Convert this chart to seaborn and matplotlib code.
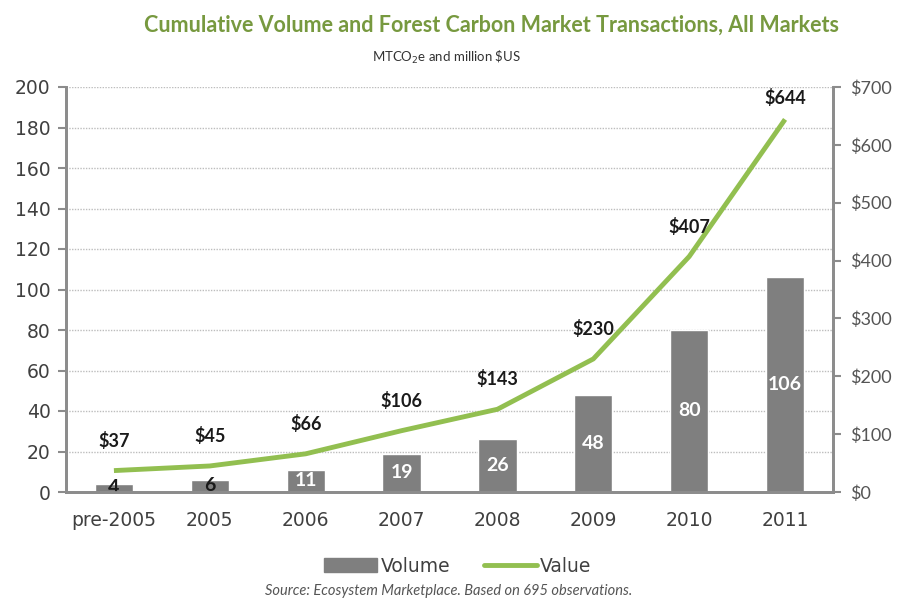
import numpy as np
import pandas as pd
import matplotlib
matplotlib.use("Agg")
import matplotlib.pyplot as plt
import seaborn as sns
from matplotlib.ticker import FixedLocator, FuncFormatter
from matplotlib.patches import Patch
from matplotlib.lines import Line2D

years = ["pre-2005", "2005", "2006", "2007", "2008", "2009", "2010", "2011"]
volume = [4, 6, 11, 19, 26, 48, 80, 106]
value = [37, 45, 66, 106, 143, 230, 407, 644]

df = pd.DataFrame({"year": years, "volume": volume, "value": value,
                   "pos": np.arange(len(years))})

sns.set_theme(style="white")
plt.rcParams["font.family"] = ["DejaVu Sans"]
LATO = ["Lato", "DejaVu Sans"]

BAR = "#7f7f7f"
GREEN = "#92bf50"
AXC = "#8c8c8c"
TXT = "#404040"

fig = plt.figure(figsize=(8.99, 5.99), dpi=100)
ax = fig.add_axes([66/899, 1-492/599, (833-66)/899, (492-87)/599])

sns.barplot(data=df, x="year", y="volume", color=BAR, width=0.4,
            saturation=1, ax=ax, zorder=2)
ax.set_ylim(0, 200)
ax.set_xlim(-0.5, len(years)-0.5)
ax.set_yticks(np.arange(0, 201, 20))
ax.yaxis.grid(True, linestyle=(0, (1, 1)), color="#bdbdbd", linewidth=1.0, zorder=0)
ax.set_axisbelow(True)
ax.set_xlabel("")
ax.set_ylabel("")

ax2 = ax.twinx()
sns.lineplot(data=df, x="pos", y="value", color=GREEN, linewidth=3.5, ax=ax2,
             solid_capstyle="butt", zorder=3)
ax2.set_ylim(0, 700)
ax2.set_xlim(-0.5, len(years)-0.5)
ax2.set_yticks(np.arange(0, 701, 100))
ax2.yaxis.set_major_formatter(FuncFormatter(lambda v, p: f"${int(v)}"))
ax2.set_ylabel("")
ax2.set_xlabel("")

# x ticks: labels at centres, tick marks at boundaries
ax.set_xticks(np.arange(len(years)))
ax.set_xticklabels(years)
ax.xaxis.set_minor_locator(FixedLocator(np.arange(-0.5, len(years), 1.0)))
ax.tick_params(axis="x", which="major", length=0, pad=14, labelsize=13.5, labelcolor=TXT)
ax.tick_params(axis="x", which="minor", length=6, width=1.5, color=AXC, direction="out")
ax.tick_params(axis="y", length=6, width=1.5, color=AXC, direction="out",
               labelsize=13.5, labelcolor=TXT, pad=5, left=True)
ax2.tick_params(axis="y", length=6, width=1.5, color=AXC, direction="out",
                labelsize=13, labelcolor="#555555", pad=6, right=True,
                labelfontfamily="Lato")

for a in (ax, ax2):
    a.spines["top"].set_visible(False)
    for s in ("left", "right", "bottom"):
        a.spines[s].set_color(AXC)
        a.spines[s].set_linewidth(2)

# bar labels centred in bars
for i, v in enumerate(volume):
    col = "#1a1a1a" if v < 8 else "white"
    ax.text(i, v/2, f"{v}", ha="center", va="center", fontsize=14,
            fontweight="bold", color=col, zorder=5, family=LATO)

# value labels above line points
for i, v in enumerate(value):
    off = 15 if i < len(value)-1 else 9
    ax2.annotate(f"${v}", (i, v), xytext=(0, off), textcoords="offset points",
                 ha="center", va="bottom", fontsize=13, fontweight="bold",
                 color="#1a1a1a", zorder=5, family=LATO)

fig.text(491/899, 1-25/599, "Cumulative Volume and Forest Carbon Market Transactions, All Markets",
         ha="center", va="center", fontsize=15.5, fontweight="bold", color="#77993f",
         family=LATO)
fig.text(447/899, 1-57/599, r"MTCO$_2$e and million \$US", ha="center", va="center",
         fontsize=9.5, color="#333333", family=LATO)

handles = [Patch(facecolor=BAR, edgecolor=BAR), Line2D([0], [0], color=GREEN, linewidth=3.5)]
fig.legend(handles, ["Volume", "Value"], loc="center", bbox_to_anchor=(458/899, 1-566/599),
           ncol=2, frameon=False, prop={"family": "DejaVu Sans", "size": 13.5}, handlelength=2.8,
           handletextpad=0.2, columnspacing=1.8, labelcolor=TXT)

fig.text(449/899, 1-591/599, "Source: Ecosystem Marketplace. Based on 695 observations.",
         ha="center", va="center", fontsize=10.5, style="italic", color="#555555",
         family=LATO)

fig.savefig("out.png", dpi=100)
